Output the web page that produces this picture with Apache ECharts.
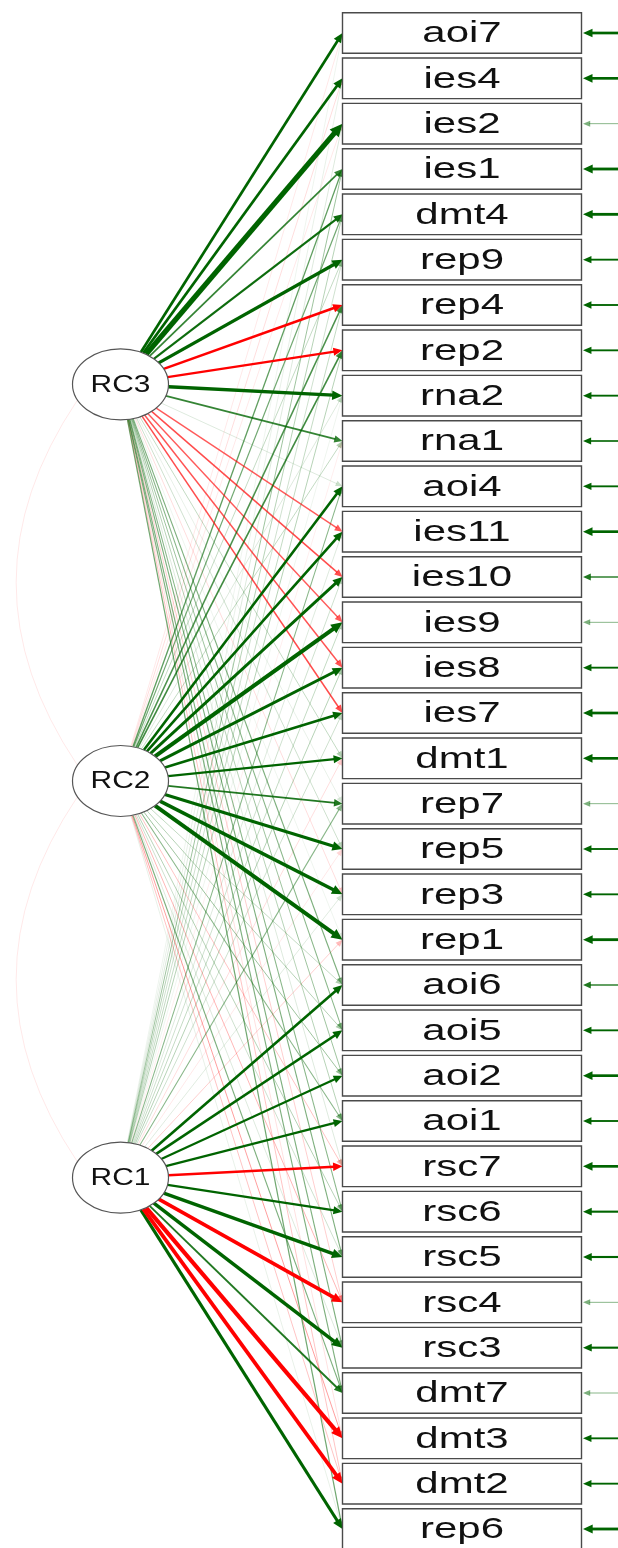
<!DOCTYPE html>
<html><head><meta charset="utf-8">
<script src="https://cdn.jsdelivr.net/npm/echarts@6/dist/echarts.min.js"></script>
<style>html,body{margin:0;padding:0;background:#fff}#c{width:618px;height:1548px}</style>
</head><body><div id="c"></div>
<script>
// ---- data ----
const variables = ['aoi7','ies4','ies2','ies1','dmt4','rep9','rep4','rep2','rna2','rna1',
  'aoi4','ies11','ies10','ies9','ies8','ies7','dmt1','rep7','rep5','rep3','rep1',
  'aoi6','aoi5','aoi2','aoi1','rsc7','rsc6','rsc5','rsc4','rsc3','dmt7','dmt3','dmt2','rep6'];
const factors = ['RC3','RC2','RC1'];
const factorRows = [7.75, 16.5, 25.25];
const loadRC3 = [0.56,0.57,0.82,0.42,0.48,0.63,-0.55,-0.52,0.64,0.42,
  0.15,-0.36,-0.38,-0.36,-0.37,-0.38,0.20,0.12,0.18,-0.15,0.10,
  0.30,0.28,0.25,0.22,0.15,0.28,0.30,-0.18,0.30,0.30,-0.14,-0.20,0.32];
const loadRC2 = [-0.12,-0.15,-0.12,0.35,0.32,0.20,0.38,0.40,0.15,0.20,
  0.55,0.55,0.58,0.72,0.60,0.55,0.50,0.45,0.62,0.66,0.70,
  0.20,0.22,0.25,0.28,-0.20,0.22,0.18,-0.22,0.15,0.30,-0.25,-0.20,0.12];
const loadRC1 = [0.10,0.12,0.15,0.25,0.22,0.18,0.20,0.22,0.10,-0.10,
  0.28,0.15,0.18,0.20,0.22,0.18,-0.15,0.28,-0.12,0.14,-0.18,
  0.55,0.55,0.50,0.50,-0.55,0.52,0.65,-0.66,0.66,0.45,-0.72,-0.68,0.62];
const residuals = [0.70,0.70,0.30,0.72,0.72,0.55,0.55,0.55,0.55,0.50,
  0.55,0.70,0.45,0.30,0.55,0.70,0.70,0.30,0.55,0.55,0.72,
  0.45,0.55,0.70,0.55,0.70,0.60,0.60,0.30,0.60,0.30,0.55,0.55,0.72];
const factorCorrelations = [-0.08, -0.06]; // RC3~RC2, RC2~RC1

// ---- layout constants (x axis in px-like units) ----
const FX = 120.5, BOX_L = 342.5, BOX_R = 581.5, RES_X = 618;
const RX = 48, RY = 35.5, BOX_H = 40.6;

const loadings = [loadRC3, loadRC2, loadRC1];
const edges = [];
loadings.forEach((arr, f) => arr.forEach((w, i) => edges.push([f, i, w])));
edges.sort((a, b) => Math.abs(a[2]) - Math.abs(b[2]));

function arrowEls(x1, y1, x2, y2, width, stroke) {
  const dx = x2 - x1, dy = y2 - y1, len = Math.hypot(dx, dy), ux = dx / len, uy = dy / len;
  const L = 6 + 1.3 * width, H = 2.4 + 0.7 * width;
  const bx = x2 - ux * L, by = y2 - uy * L;
  return [
    {type: 'line', shape: {x1, y1, x2: bx + ux, y2: by + uy}, style: {stroke, lineWidth: width, lineCap: 'butt'}},
    {type: 'polygon', shape: {points: [[x2, y2], [bx - uy * H, by + ux * H], [bx + uy * H, by - ux * H]]}, style: {fill: stroke}}
  ];
}
function styleOf(w, scale) {
  const a = Math.abs(w);
  const width = 0.5 + scale * a * a;
  const alpha = Math.min(1, Math.pow(a / 0.5, 1.3));
  const col = w >= 0 ? '0,100,0' : '255,0,0';
  return {width, stroke: `rgba(${col},${alpha.toFixed(3)})`};
}

const chart = echarts.init(document.getElementById('c'), null, {renderer: 'canvas'});
chart.setOption({
  animation: false,
  grid: {left: 0, right: 0, top: 33, bottom: 19},
  xAxis: {type: 'value', min: 0, max: 618, show: false},
  yAxis: {type: 'value', min: 0, max: 33, inverse: true, show: false},
  series: [
    { // factor covariances
      type: 'custom', silent: true,
      data: factorCorrelations.map((r, k) => [k, r]),
      renderItem(params, api) {
        const k = api.value(0), r = api.value(1);
        const a = api.coord([FX, factorRows[k]]), b = api.coord([FX, factorRows[k + 1]]);
        const p1 = [a[0] - RX * 0.9, a[1] + RY * 0.45], p2 = [b[0] - RX * 0.9, b[1] - RY * 0.45];
        const cp = [-45, (p1[1] + p2[1]) / 2];
        const col = r >= 0 ? '0,100,0' : '255,0,0';
        const stroke = `rgba(${col},0.09)`;
        return {type: 'group', children: [
          {type: 'bezierCurve', shape: {x1: p1[0], y1: p1[1], x2: p2[0], y2: p2[1], cpx1: cp[0], cpy1: cp[1]}, style: {stroke, lineWidth: 1, fill: null}}
        ]};
      }
    },
    { // loadings
      type: 'custom', silent: true,
      data: edges,
      renderItem(params, api) {
        const f = api.value(0), i = api.value(1), w = api.value(2);
        const c = api.coord([FX, factorRows[f]]);
        const t = api.coord([BOX_L, i]);
        const dx = t[0] - c[0], dy = t[1] - c[1];
        const s = 1 / Math.sqrt((dx / RX) ** 2 + (dy / RY) ** 2);
        const st = styleOf(w, 7);
        return {type: 'group', children: arrowEls(c[0] + dx * s, c[1] + dy * s, t[0], t[1], st.width, st.stroke)};
      }
    },
    { // residuals
      type: 'custom', silent: true,
      data: residuals.map((r, i) => [i, r]),
      renderItem(params, api) {
        const i = api.value(0), r = api.value(1);
        const a = api.coord([RES_X, i]), b = api.coord([BOX_R + 1.5, i]);
        const st = styleOf(r, 4.5);
        return {type: 'group', children: arrowEls(a[0], a[1], b[0], b[1], st.width, st.stroke)};
      }
    },
    { // manifest boxes
      type: 'custom', silent: true,
      data: variables.map((v, i) => [i, v]),
      renderItem(params, api) {
        const i = api.value(0);
        const l = api.coord([BOX_L, i]), r = api.coord([BOX_R, i]);
        return {type: 'group', children: [
          {type: 'rect', shape: {x: l[0], y: l[1] - BOX_H / 2, width: r[0] - l[0], height: BOX_H}, style: {fill: '#fff', stroke: '#4a4a4a', lineWidth: 1.4}},
          {type: 'text', x: (l[0] + r[0]) / 2, y: l[1] + 1, scaleX: 1.4, style: {text: variables[i], fontSize: 30, fontFamily: 'Liberation Sans, Arial, sans-serif', fill: '#111', align: 'center', verticalAlign: 'middle'}}
        ]};
      }
    },
    { // latent factors
      type: 'custom', silent: true,
      data: factors.map((f, k) => [k, factorRows[k]]),
      renderItem(params, api) {
        const k = api.value(0);
        const c = api.coord([FX, api.value(1)]);
        return {type: 'group', children: [
          {type: 'ellipse', shape: {cx: c[0], cy: c[1], rx: RX, ry: RY}, style: {fill: '#fff', stroke: '#555', lineWidth: 1.2}},
          {type: 'text', x: c[0], y: c[1] + 1, scaleX: 1.3, style: {text: factors[k], fontSize: 23, fontFamily: 'Liberation Sans, Arial, sans-serif', fill: '#111', align: 'center', verticalAlign: 'middle'}}
        ]};
      }
    }
  ]
});
</script></body></html>
